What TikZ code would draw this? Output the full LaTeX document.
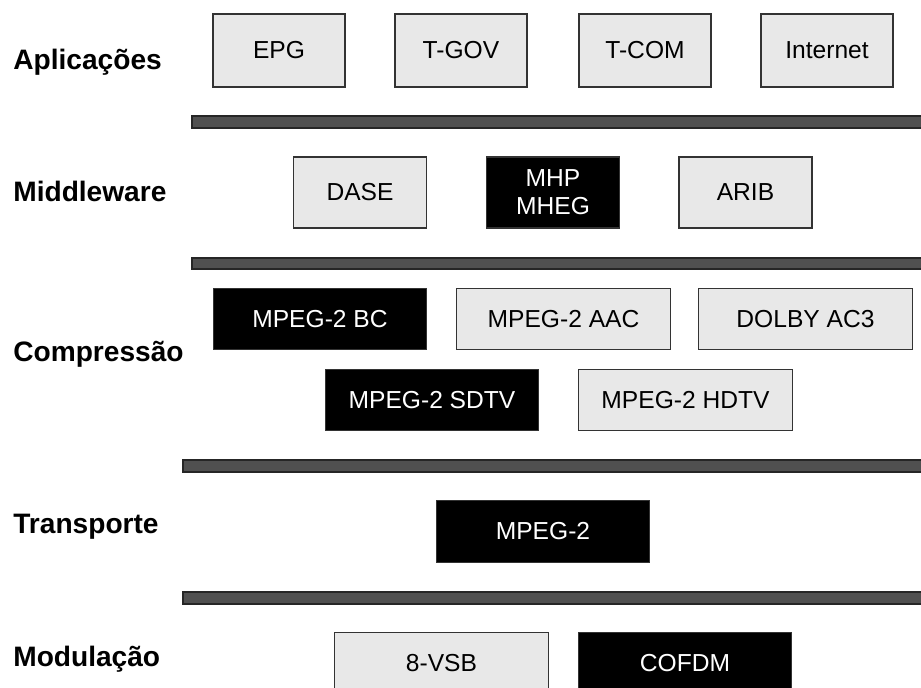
\documentclass[tikz,border=0pt]{standalone}
\usepackage{fontspec}
\setmainfont{Liberation Sans}
\usepackage{xcolor}
\definecolor{boxgray}{HTML}{E8E8E8}
\definecolor{bargray}{HTML}{505050}
\definecolor{edgegray}{HTML}{333333}

\begin{document}
\begin{tikzpicture}[
    x=0.02cm, y=-0.02cm,
    lbox/.style={rectangle, draw=edgegray, fill=boxgray, line width=0.8pt, inner sep=0pt, text=black, font=\fontsize{14}{16}\selectfont, align=center},
    dbox/.style={rectangle, draw=edgegray, fill=black, line width=0.8pt, inner sep=0pt, text=white, font=\fontsize{14}{16}\selectfont, align=center},
    app/.style={minimum width=2.64cm, minimum height=1.46cm},
    mid/.style={minimum width=2.66cm, minimum height=1.42cm},
    wide/.style={minimum width=4.27cm, minimum height=1.23cm},
    layer/.style={anchor=base west, inner sep=0pt, font=\fontsize{16}{18}\selectfont\bfseries},
    bar/.style={draw=black!85, fill=bargray, line width=0.8pt}
]
\clip (0,0) rectangle (921,688);
\useasboundingbox (0,0) rectangle (921,688);

% layer names
\node[layer] (lapp) at (13,70) {Aplicações};
\node[layer] (lmid) at (13,202) {Middleware};
\node[layer] (lcomp) at (13,362) {Compressão};
\node[layer] (ltrans) at (13,534) {Transporte};
\node[layer] (lmod) at (13,667) {Modulação};

% separators
\draw[bar] (192,116) rectangle (930,128);
\draw[bar] (192,258) rectangle (930,269);
\draw[bar] (183,460) rectangle (930,472);
\draw[bar] (183,592) rectangle (930,604);

% aplicacoes
\node[lbox, app] (epg) at (279,50.5) {EPG};
\node[lbox, app] (tgov) at (461,50.5) {T-GOV};
\node[lbox, app] (tcom) at (645,50.5) {T-COM};
\node[lbox, app] (inet) at (827,50.5) {Internet};

% middleware
\node[lbox, mid] (dase) at (360,192.5) {DASE};
\node[dbox, mid] (mhp) at (553,192.5) {MHP\\MHEG};
\node[lbox, mid] (arib) at (745.5,192.5) {ARIB};

% compressao
\node[dbox, wide] (bc) at (320,319) {MPEG-2 BC};
\node[lbox, wide] (aac) at (563.5,319) {MPEG-2 AAC};
\node[lbox, wide] (dolby) at (805.5,319) {DOLBY AC3};
\node[dbox, wide] (sdtv) at (432,400) {MPEG-2 SDTV};
\node[lbox, wide] (hdtv) at (685.5,400) {MPEG-2 HDTV};

% transporte
\node[dbox, wide] (ts) at (543,531.5) {MPEG-2};

% modulacao
\node[lbox, wide] (vsb) at (441.5,663) {8-VSB};
\node[dbox, wide] (ofdm) at (685,663) {COFDM};
\end{tikzpicture}
\end{document}
